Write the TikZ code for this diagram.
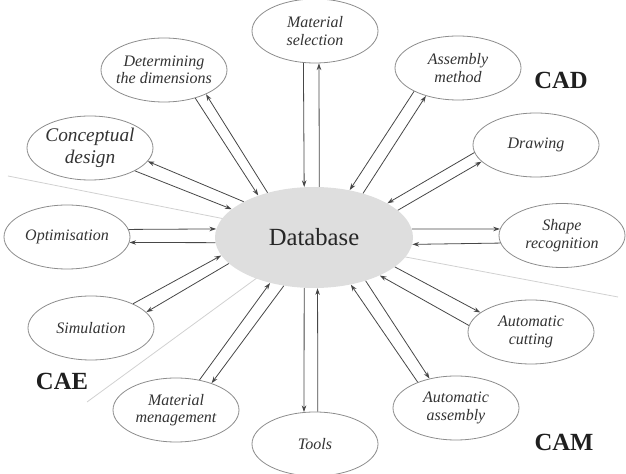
\documentclass[tikz,border=0pt]{standalone}
\usepackage{fontspec}
\setmainfont{Liberation Serif}
\usetikzlibrary{arrows.meta,shapes.geometric}

\begin{document}
\begin{tikzpicture}[x=0.75pt,y=-0.75pt,
  sat/.style={ellipse,draw=black!45,line width=0.6pt,minimum width=94.5pt,minimum height=48pt,
    inner sep=-6pt,align=center,text=black!80,font=\fontsize{12}{13}\selectfont\itshape},
  link/.style={draw=black!72,line width=0.6pt,-{Stealth[length=5pt,width=3.4pt]}},
  area/.style={text=black!88,font=\fontsize{18.5}{20}\selectfont\bfseries},
  sep/.style={draw=black!18,line width=0.6pt}]
\useasboundingbox (0,0) rectangle (626,474);
\draw [sep] (8,176) -- (240,222);
\draw [sep] (87,402) -- (265,272);
\draw [sep] (395,255) -- (618,297);
\node [ellipse,fill=black!13,minimum width=148.5pt,minimum height=75.75pt,inner sep=0pt,
  text=black!85,font=\fontsize{18.5}{20}\selectfont] (db) at (314,237.5) {Database};
\node [sat] (sel) at (315,31) {Material\\selection};
\node [sat] (dim) at (164,70) {Determining\\the dimensions};
\node [sat,font=\fontsize{14.5}{16.5}\selectfont\itshape] (con) at (90,148) {Conceptual\\design};
\node [sat] (opt) at (67,237) {Optimisation};
\node [sat] (sim) at (91,328) {Simulation};
\node [sat] (mat) at (176,410) {Material\\menagement};
\node [sat] (tool) at (315,444) {Tools};
\node [sat] (aas) at (456,408) {Automatic\\assembly};
\node [sat] (acu) at (531,332) {Automatic\\cutting};
\node [sat] (shp) at (562,235.5) {Shape\\recognition};
\node [sat] (drw) at (536,145) {Drawing};
\node [sat] (asm) at (458,68) {Assembly\\method};
\node [area] (cad) at (561,80) {CAD};
\node [area] (cae) at (62,381) {CAE};
\node [area] (cam) at (564,442) {CAM};
\draw [link] (sel.250) -- (db.101);
\draw [link] (db.84) -- (sel.277);
\draw [link] (dim.318) -- (db.143);
\draw [link] (db.136) -- (dim.330);
\draw [link] (con.333) -- (db.161);
\draw [link] (db.153) -- (con.347);
\draw [link] (opt.7) -- (db.175);
\draw [link] (db.183) -- (opt.355);
\draw [link] (sim.30) -- (db.191);
\draw [link] (db.197) -- (sim.16);
\draw [link] (mat.52) -- (db.226);
\draw [link] (db.238) -- (mat.37);
\draw [link] (db.259) -- (tool.109);
\draw [link] (tool.85) -- (db.274);
\draw [link] (aas.146) -- (db.308);
\draw [link] (db.320) -- (aas.132);
\draw [link] (acu.174) -- (db.330);
\draw [link] (db.340) -- (acu.159);
\draw [link] (db.5) -- (shp.174);
\draw [link] (shp.187) -- (db.356);
\draw [link] (drw.187) -- (db.25);
\draw [link] (db.18) -- (drw.197);
\draw [link] (asm.208) -- (db.53);
\draw [link] (db.42) -- (asm.221);
\end{tikzpicture}
\end{document}
